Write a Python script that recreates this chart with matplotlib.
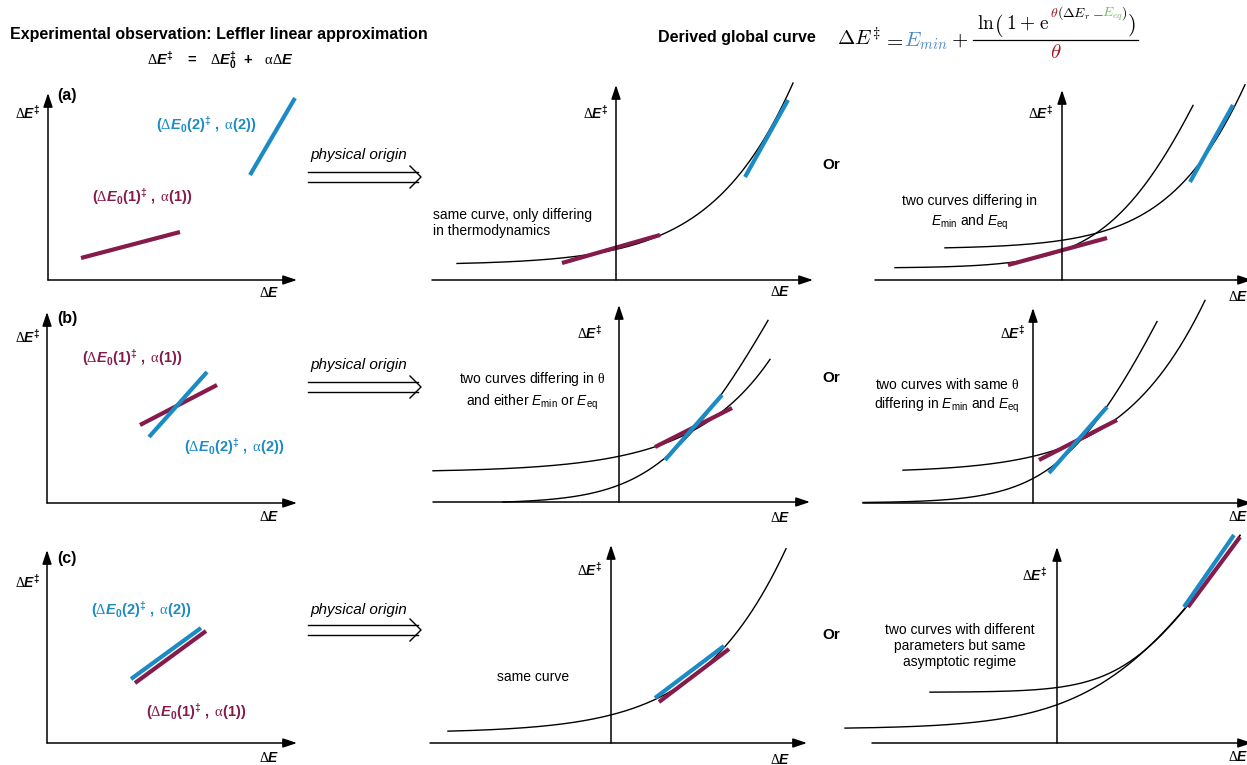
import numpy as np
import matplotlib
matplotlib.use("Agg")
import matplotlib.pyplot as plt

plt.rcParams['font.family'] = ['Liberation Sans', 'DejaVu Sans']
plt.rcParams['mathtext.fontset'] = 'custom'
plt.rcParams['mathtext.rm'] = 'Liberation Serif'
plt.rcParams['mathtext.it'] = 'Liberation Sans:italic'
plt.rcParams['mathtext.bf'] = 'Liberation Sans:bold'
plt.rcParams['mathtext.bfit'] = 'Liberation Sans:italic:bold'
plt.rcParams['mathtext.sf'] = 'Liberation Sans'

# ---------------- data (panel-local units, origin at axis crossing, y up) ----
panels = ['a1', 'a2', 'a3', 'b1', 'b2', 'b3', 'c1', 'c2', 'c3']
maroon_start = [(33, 22), (-54, 17), (-54, 15), (93, 78), (36, 55), (6, 43), (88, 60), (48, 41), (131, 136)]
maroon_end = [(132, 48), (44, 45), (45, 42), (170, 118), (113, 94), (84, 83), (159, 112), (118, 94), (183, 206)]
blue_start = [(202, 105), (129, 103), (128, 98), (102, 66), (46, 42), (16, 30), (84, 64), (44, 45), (127, 136)]
blue_end = [(247, 182), (172, 180), (171, 175), (160, 131), (103, 107), (74, 96), (154, 115), (113, 97), (177, 208)]

# black curves: dE = Emin + slope * ln(1 + exp(theta (x - Eeq))) / theta
curve_panel = ['a2', 'a3', 'a3', 'b2', 'b2', 'b3', 'b3', 'c2', 'c3', 'c3']
curve_Emin = [15.07, 31.05, 11.91, 29.80, -1.38, 30.45, 0.12, 10.13, 50.73, 14.11]
curve_slope = [6.910, 4.824, 2.489, 265.38, 1.929, 5.759, 2.160, 5.807, 1.485, 1.695]
curve_theta = [0.01496, 0.01771, 0.02283, 0.01299, 0.02348, 0.01496, 0.02484, 0.01454, 0.02942, 0.01674]
curve_Eeq = [225.7, 193.7, 76.8, 551.0, 59.0, 210.3, 45.4, 211.8, 78.9, 78.4]
curve_xstart = [-159, -117, -167, -186, -116, -130, -170, -163, -127, -212]
curve_xend = [177, 183, 131, 151, 149, 172, 124, 175, 183, 183]

# ---------------- layout ----------------
W, H = 1247, 765
origin = {'a1': (48, 280), 'a2': (616, 280), 'a3': (1062, 280),
          'b1': (47, 503), 'b2': (619, 502), 'b3': (1033, 503),
          'c1': (47, 743), 'c2': (611, 743), 'c3': (1057, 743)}
extent = {'a1': (48, 297, 93), 'a2': (432, 813, 85), 'a3': (875, 1252, 90),
          'b1': (47, 297, 312), 'b2': (433, 810, 305), 'b3': (863, 1252, 308),
          'c1': (47, 297, 550), 'c2': (430, 807, 545), 'c3': (872, 1252, 547)}

MAROON = '#861a4b'
BLUE = '#1b8bc6'
F_BLUE = '#4a88c7'
F_RED = '#a8161b'
F_GREEN = '#6cbf5a'

fig = plt.figure(figsize=(W / 100, H / 100), dpi=100)
pax = fig.add_axes([0, 0, 1, 1])
pax.set_xlim(0, W)
pax.set_ylim(H, 0)
pax.axis('off')

axes = {}
ap = dict(arrowstyle='-|>,head_length=0.6,head_width=0.2', mutation_scale=14,
          lw=1.1, color='k', shrinkA=0, shrinkB=0)
for p in panels:
    ox, oy = origin[p]
    a = fig.add_axes([0, 0, 1, 1])
    a.set_xlim(-ox, W - ox)
    a.set_ylim(-(H - oy), oy)
    a.axis('off')
    a.patch.set_alpha(0)
    axes[p] = a
    xl, xt, yt = extent[p]
    a.annotate('', xy=(xt - ox, 0), xytext=(xl - ox, 0), arrowprops=ap, annotation_clip=False)
    a.annotate('', xy=(0, oy - yt), xytext=(0, 0), arrowprops=ap, annotation_clip=False)

for p, b, m, th, E, x0, x1 in zip(curve_panel, curve_Emin, curve_slope, curve_theta,
                                  curve_Eeq, curve_xstart, curve_xend):
    x = np.linspace(x0, x1, 300)
    y = b + m * np.logaddexp(0, th * (x - E)) / th
    axes[p].plot(x, y, color='k', lw=1.0)

for i, p in enumerate(panels):
    a = axes[p]
    a.plot([maroon_start[i][0], maroon_end[i][0]], [maroon_start[i][1], maroon_end[i][1]],
           color=MAROON, lw=3, solid_capstyle='butt')
    a.plot([blue_start[i][0], blue_end[i][0]], [blue_start[i][1], blue_end[i][1]],
           color=BLUE, lw=3, solid_capstyle='butt')

# ---------------- texts ----------------
YLAB = r'$\Delta\mathbfit{E}^{\mathbf{\ddagger}}$'
XLAB = r'$\Delta\mathbfit{E}$'
LAB1 = r'$\mathbf{(}\Delta\mathbfit{E}_{\mathbf{0}}\mathbf{(1)}^{\mathbf{\ddagger}}\mathbf{\ ,\ }\mathrm{\alpha}\mathbf{(1))}$'
LAB2 = r'$\mathbf{(}\Delta\mathbfit{E}_{\mathbf{0}}\mathbf{(2)}^{\mathbf{\ddagger}}\mathbf{\ ,\ }\mathrm{\alpha}\mathbf{(2))}$'


def t(x, y, s, **kw):
    kw.setdefault('va', 'center')
    kw.setdefault('ha', 'left')
    kw.setdefault('fontsize', 9.5)
    return pax.text(x, y, s, **kw)


t(10, 34, 'Experimental observation: Leffler linear approximation', fontsize=11.5, fontweight='bold')
t(220, 60, r'$\Delta\mathbfit{E}^{\mathbf{\ddagger}}\ \ \ \mathbf{=}\ \ \ \Delta\mathbfit{E}_{\mathbf{0}}^{\mathbf{\ddagger}}'
           r'\ \ \mathbf{+}\ \ \ \mathrm{\alpha}\Delta\mathbfit{E}$', ha='center', fontsize=10.5)
t(658, 37, 'Derived global curve', fontsize=11.5, fontweight='bold')


# formula with coloured pieces (Computer Modern)
def ft(x, y, s, c='k', fs=14, ha='left'):
    return pax.text(x, y, s, color=c, fontsize=fs, va='baseline', ha=ha, math_fontfamily='cm')


ft(837, 46, r'$\Delta E^{\ddagger}$', fs=15)
ft(883, 46, r'$=$', fs=15)
ft(904, 46, r'$E_{min}$', F_BLUE, fs=15)
ft(951, 46, r'$+$', fs=15)
ft(977, 29, r'$\ln$', fs=14)
ft(994, 31, r'$($', fs=16)
ft(1006, 29, r'$1$', fs=14)
ft(1019, 29, r'$+$', fs=14)
ft(1039, 29, r'$\mathrm{e}$', fs=14)
ft(1050, 17, r'$\theta$', F_RED, fs=10)
ft(1057, 17, r'$(\Delta E_r$', fs=10)
ft(1092, 17, r'$-$', fs=10)
ft(1102, 17, r'$E_{eq}$', F_GREEN, fs=10)
ft(1121, 17, r'$)$', fs=10)
ft(1127, 31, r'$)$', fs=16)
pax.plot([973, 1138], [40, 40], color='k', lw=0.9)
ft(1056, 58, r'$\theta$', F_RED, fs=15, ha='center')

# left panels
for lab, y_lab, y_y, y_x in [('(a)', 95, 113, 293), ('(b)', 318, 337, 517), ('(c)', 558, 582, 758)]:
    t(57, y_lab, lab, fontsize=11.5, fontweight='bold')
    t(15, y_y, YLAB, fontsize=10)
    t(259, y_x, XLAB, fontsize=10)

t(156, 125, LAB2, color=BLUE, fontsize=10.5)
t(92, 197, LAB1, color=MAROON, fontsize=10.5)
t(82, 358, LAB1, color=MAROON, fontsize=10.5)
t(184, 447, LAB2, color=BLUE, fontsize=10.5)
t(91, 610, LAB2, color=BLUE, fontsize=10.5)
t(146, 712, LAB1, color=MAROON, fontsize=10.5)

# physical origin arrows
for yt_, y1 in [(155, 172), (365, 382), (610, 625)]:
    t(310, yt_, 'physical origin', fontsize=11, fontstyle='italic')
    y2 = y1 + 10
    pax.plot([308, 418], [y1, y1], color='k', lw=1.0)
    pax.plot([308, 418], [y2, y2], color='k', lw=1.0)
    pax.plot([410, 421, 410], [y1 - 6, (y1 + y2) / 2, y2 + 6], color='k', lw=1.0)

# "Or"
for y in [165, 378, 635]:
    t(822, y, 'Or', fontsize=11, fontweight='bold')

# axis labels of middle and right panels
for x, y in [(583, 113), (577, 333), (577, 570), (1028, 113), (1000, 333), (1022, 575)]:
    t(x, y, YLAB, fontsize=10)
for x, y in [(770, 292), (770, 518), (770, 760), (1228, 297), (1228, 517), (1228, 757)]:
    t(x, y, XLAB, fontsize=10)

# descriptions
t(433, 223, 'same curve, only differing\nin thermodynamics', fontsize=10, linespacing=1.25)
t(970, 213, 'two curves differing in\n' + r'$E_{\mathsf{min}}$ and $E_{\mathsf{eq}}$',
  fontsize=10, ha='center', multialignment='center', linespacing=1.35)
t(532, 391, 'two curves differing in ' + r'$\mathrm{\theta}$' + '\nand either ' +
  r'$E_{\mathsf{min}}$ or $E_{\mathsf{eq}}$', fontsize=10, ha='center', multialignment='center',
  linespacing=1.35)
t(947, 396, 'two curves with same ' + r'$\mathrm{\theta}$' + '\ndiffering in ' +
  r'$E_{\mathsf{min}}$ and $E_{\mathsf{eq}}$', fontsize=10, ha='center', multialignment='center',
  linespacing=1.35)
t(497, 677, 'same curve', fontsize=10)
t(960, 646, 'two curves with different\nparameters but same\nasymptotic regime', fontsize=10,
  ha='center', multialignment='center', linespacing=1.2)

fig.savefig('out.png', dpi=100)
